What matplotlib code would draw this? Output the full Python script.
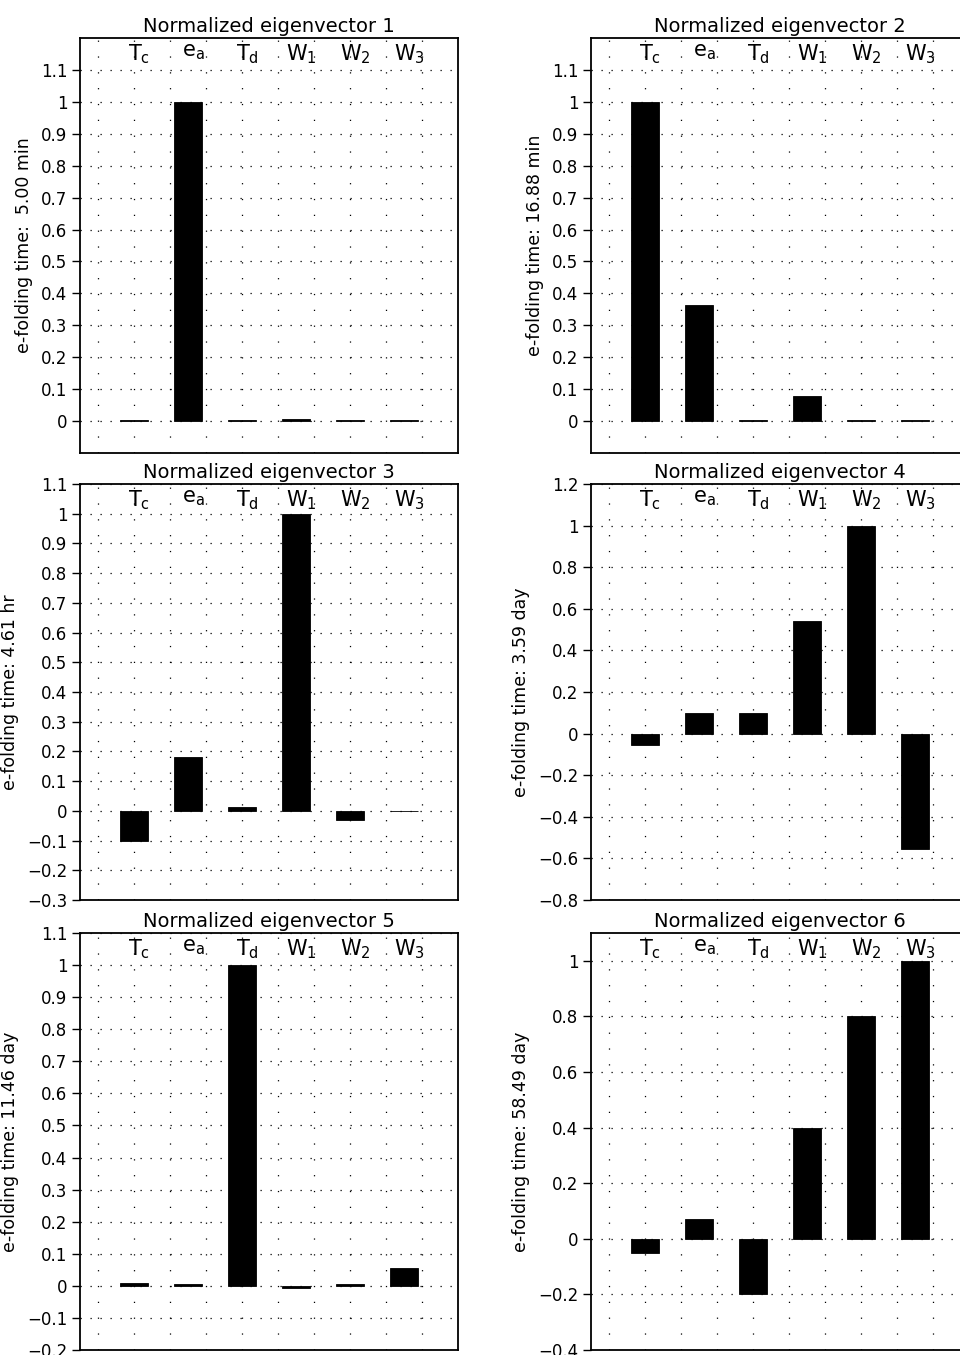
import numpy as np
import matplotlib
matplotlib.use("Agg")
import matplotlib.pyplot as plt
from matplotlib.ticker import FuncFormatter

plt.rcParams['font.family'] = ['DejaVu Sans']
plt.rcParams['mathtext.fontset'] = 'custom'
plt.rcParams['mathtext.rm'] = 'DejaVu Sans'
plt.rcParams['lines.scale_dashes'] = False

# variables shown on each panel
labels = [r'$\mathregular{T_c}$', r'$\mathregular{e_a}$', r'$\mathregular{T_d}$',
          r'$\mathregular{W_1}$', r'$\mathregular{W_2}$', r'$\mathregular{W_3}$']

# eigenvector components
vec1 = [0.004, 1.0, 0.003, 0.008, 0.003, 0.003]
vec2 = [1.0, 0.365, 0.003, 0.078, 0.003, 0.003]
vec3 = [-0.1, 0.18, 0.014, 1.0, -0.03, -0.002]
vec4 = [-0.055, 0.1, 0.1, 0.54, 1.0, -0.555]
vec5 = [0.01, 0.005, 1.0, -0.008, 0.005, 0.057]
vec6 = [-0.05, 0.072, -0.2, 0.4, 0.8, 1.0]

efold = [' 5.00 min', '16.88 min', '4.61 hr', '3.59 day', '11.46 day', '58.49 day']

ylims = [(-0.1, 1.2), (-0.1, 1.2), (-0.3, 1.1), (-0.8, 1.2), (-0.2, 1.1), (-0.4, 1.1)]
yticks = [np.arange(0, 1.11, 0.1), np.arange(0, 1.11, 0.1), np.arange(-0.3, 1.11, 0.1),
          np.arange(-0.8, 1.21, 0.2), np.arange(-0.2, 1.11, 0.1), np.arange(-0.4, 1.01, 0.2)]

vecs = [vec1, vec2, vec3, vec4, vec5, vec6]


def fmt(v, pos):
  v = round(v, 3)
  if abs(v) < 1e-9:
    return '0'
  return ('%g' % v).replace('-', '\u2212')


W, H = 960, 1355
fig = plt.figure(figsize=(W / 100, H / 100), dpi=100)

lefts = [80, 591]
rows = [(38, 453), (484, 900), (933, 1350)]
x = np.arange(1, 7)
xgrid = 1 / 3 + np.arange(10) * 2 / 3

for i in range(6):
  col = i % 2
  top, bot = rows[i // 2]
  ax = fig.add_axes([lefts[col] / W, (H - bot) / H, 378 / W, (bot - top) / H])

  # dotted grid, like the IDL original
  for yv in yticks[i]:
    ax.axhline(yv, color='black', lw=0.9, ls=(0, (0.9, 6.3)), zorder=1)
  for xv in xgrid:
    ax.axvline(xv, color='black', lw=0.9, ls=(0, (0.9, 10.5)), zorder=1)

  ax.bar(x, vecs[i], width=0.52, color='black', edgecolor='black', linewidth=0.6, zorder=3)

  for xi, lab in zip(x, labels):
    ax.text(xi + 0.1, 0.99, lab, transform=ax.get_xaxis_transform(),
            ha='center', va='top', fontsize=15, zorder=4)

  ax.set_xlim(0, 7)
  ax.set_ylim(*ylims[i])
  ax.set_xticks([])
  ax.set_yticks(yticks[i])
  ax.yaxis.set_major_formatter(FuncFormatter(fmt))
  ax.tick_params(axis='y', direction='out', length=6, width=1, labelsize=12, pad=3)
  for s in ax.spines.values():
    s.set_linewidth(1.3)

  ax.set_title('Normalized eigenvector %d' % (i + 1), fontsize=14, pad=4)
  ax.set_ylabel('e-folding time: ' + efold[i], fontsize=12.5, labelpad=6)

fig.savefig('out.png', dpi=100)
